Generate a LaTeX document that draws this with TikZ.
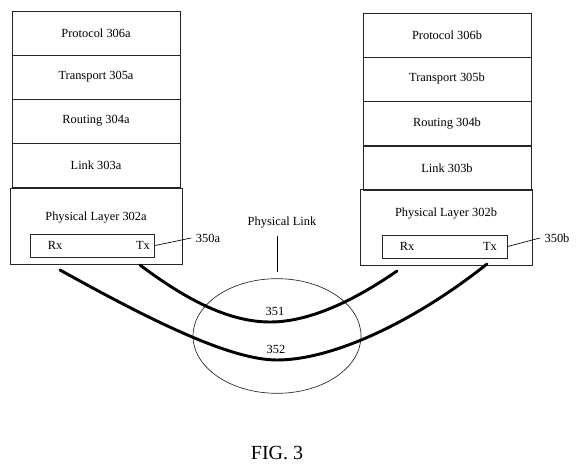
\documentclass[tikz,border=0pt]{standalone}
\usepackage{fontspec}
\setmainfont{Liberation Serif}
\usetikzlibrary{shapes.geometric}

\begin{document}
\begin{tikzpicture}[x=0.75pt, y=-0.75pt,
    every node/.style={font=\fontsize{9.3}{11}\selectfont},
    stackbox/.style={draw=black!85, line width=0.6pt, minimum width=126pt, minimum height=33pt, inner sep=0pt},
    phybox/.style={draw=black!85, line width=0.6pt, minimum width=129pt, minimum height=57pt, inner sep=0pt},
    portbox/.style={draw=black!85, line width=0.6pt, minimum width=93.5pt, minimum height=17.25pt, inner sep=0pt},
    wire/.style={line width=2.2pt, line cap=round},
    leader/.style={line width=0.5pt}]
        \useasboundingbox (0,0) rectangle (576,471);

        % left stack
        \node[stackbox] (prota) at (96,33) {Protocol 306a};
        \node[stackbox] (transa) at (96,77) {Transport 305a};
        \node[stackbox] (routa) at (96,121) {Routing 304a};
        \node[stackbox] (linka) at (96,165) {Link 303a};
        \node[phybox] (phya) at (96,226) {};
        \node (phytexta) at (96,218) {Physical Layer 302a};
        \node[portbox] (porta) at (92.5,245.5) {};
        \node (rxa) at (55,245) {Rx};
        \node (txa) at (143,245) {Tx};
        \node (lab350a) at (208,238) {350a};
        \draw[leader] (porta.east) -- (lab350a.west);

        % right stack
        \node[stackbox] (protb) at (447,35) {Protocol 306b};
        \node[stackbox] (transb) at (447,79) {Transport 305b};
        \node[stackbox] (routb) at (447,123.5) {Routing 304b};
        \node[stackbox] (linkb) at (447,168) {Link 303b};
        \node[phybox] (phyb) at (446.5,227.5) {};
        \node (phytextb) at (446,214) {Physical Layer 302b};
        \node[portbox] (portb) at (445,246.5) {};
        \node (rxb) at (407,246) {Rx};
        \node (txb) at (490,246) {Tx};
        \node (lab350b) at (557,238) {350b};
        \draw[leader] (portb.east) -- (lab350b.west);

        % physical link
        \node[ellipse, draw=black!85, line width=0.5pt, minimum width=126pt, minimum height=86pt] (plinkell) at (277,336) {};
        \node (plink) at (282,223) {Physical Link};
        \draw[leader, shorten <=2pt, shorten >=4.5pt] (plink.south -| plinkell.north) -- (plinkell.north);

        \coordinate (w351a) at (140,265);
        \coordinate (w351b) at (397,271);
        \coordinate (w352a) at (60,270);
        \coordinate (w352b) at (487,264);
        \draw[wire] (w351a) .. controls (180,295) and (225,322) .. (270,322) .. controls (310,322) and (355,300) .. (w351b);
        \draw[wire] (w352a) .. controls (150,320) and (230,360) .. (277,360) .. controls (330,360) and (410,325) .. (w352b);
        \node (lab351) at (275,311) {351};
        \node (lab352) at (276,349) {352};

        \node[font=\fontsize{15}{18}\selectfont] (fig) at (277,453) {FIG. 3};
    \end{tikzpicture}
\end{document}
